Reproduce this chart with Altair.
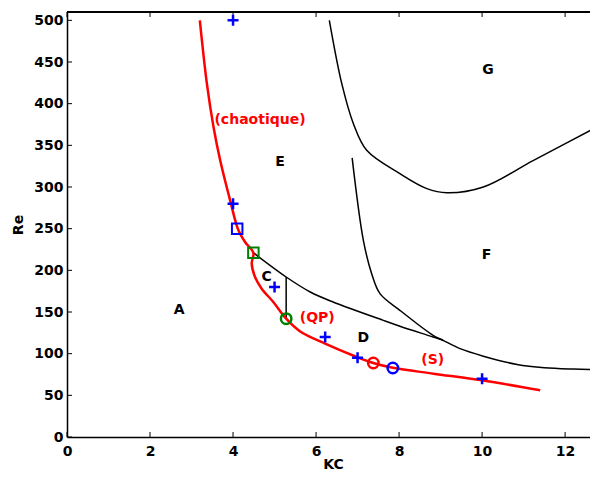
import altair as alt
import pandas as pd

# ---- data ----
red_kc = [3.20, 3.37, 3.53, 3.69, 3.93, 4.13, 4.29, 4.49, 4.45, 4.53, 4.69, 4.97, 5.28, 5.61, 6.22, 6.98, 7.38, 7.85, 8.83, 10.0, 11.4]
red_re = [500, 424, 372, 332, 284, 248, 234, 221, 208, 192, 178, 162, 142, 127, 112, 96, 88.8, 83, 76, 68, 56]

c_kc = [4.49, 5.28, 5.86, 6.41, 7.62, 8.02, 8.82, 9.06]
c_re = [221, 192, 174, 162, 140, 133, 120, 116]

f_kc = [6.87, 7.14, 7.34, 7.54, 8.02, 8.82, 9.06, 9.47, 10.03, 10.84, 11.5, 12.2, 12.8]
f_re = [335, 236, 196, 172, 152, 122, 116, 106, 97, 87, 83, 81.5, 81]

g_kc = [6.32, 6.62, 6.90, 7.22, 8.02, 8.67, 9.15, 10.03, 11.24, 12.8]
g_re = [500, 424, 376, 344, 316, 298, 293, 300, 332, 373]

v_kc = [5.28, 5.28]
v_re = [142, 192]

cross_kc = [4, 4, 5, 6.22, 7, 10]
cross_re = [500, 280, 180, 120, 95, 70]

sq_kc = [4.10, 4.49]
sq_re = [250, 221]
sq_col = ["blue", "green"]

circ_kc = [5.28, 7.38, 7.85]
circ_re = [142, 88.8, 82.8]
circ_col = ["green", "red", "blue"]

lab_text = ["A", "C", "D", "E", "F", "G"]
lab_kc = [2.70, 4.81, 7.14, 5.13, 10.11, 10.14]
lab_re = [153, 192, 119, 330, 219, 440]

red_text = ["(chaotique)", "(QP)", "(S)"]
red_text_kc = [4.65, 6.03, 8.81]
red_text_re = [381, 143, 93]

x_ticks = [0, 2, 4, 6, 8, 10, 12]
y_ticks = [0, 50, 100, 150, 200, 250, 300, 350, 400, 450, 500]

# ---- tables ----
W, H = 523, 425
FONT = "DejaVu Sans"

red_df = pd.DataFrame({"kc": red_kc, "re": red_re, "i": range(len(red_kc))})
black_rows = []
for name, ks, rs in [("c", c_kc, c_re), ("f", f_kc, f_re), ("g", g_kc, g_re), ("v", v_kc, v_re)]:
    for i, (k, r) in enumerate(zip(ks, rs)):
        black_rows.append({"curve": name, "kc": k, "re": r, "i": i})
black_df = pd.DataFrame(black_rows)

cross_df = pd.DataFrame({"kc": cross_kc, "re": cross_re})
sq_df = pd.DataFrame({"kc": sq_kc, "re": sq_re, "col": sq_col})
circ_df = pd.DataFrame({"kc": circ_kc, "re": circ_re, "col": circ_col})
lab_df = pd.DataFrame({"t": lab_text, "kc": lab_kc, "re": lab_re})
red_lab_df = pd.DataFrame({"t": red_text, "kc": red_text_kc, "re": red_text_re})
xt_df = pd.DataFrame({"kc": x_ticks})
yt_df = pd.DataFrame({"re": y_ticks})

xs = alt.Scale(domain=[0, 12.6], nice=False, zero=False)
ys = alt.Scale(domain=[0, 510], nice=False, zero=False)
X = alt.X("kc:Q", scale=xs, title="KC",
          axis=alt.Axis(values=x_ticks, ticks=False, grid=False, labelPadding=7, labelFlush=False,
                        titleBaseline="alphabetic", titleY=31, titleX=266, format="d"))
Y = alt.Y("re:Q", scale=ys, title="Re",
          axis=alt.Axis(values=y_ticks, ticks=False, grid=False, labelPadding=4, labelFlush=False,
                        titlePadding=8, format="d"))
color_scale = alt.Scale(domain=["blue", "green", "red"], range=["#0000ff", "#008000", "#ff0000"])

red_line = alt.Chart(red_df).mark_line(color="#ff0000", strokeWidth=2.5, interpolate="catmull-rom").encode(
    x=X, y=Y, order="i:Q")
black_lines = alt.Chart(black_df).mark_line(color="black", strokeWidth=1.5, interpolate="catmull-rom").encode(
    x=X, y=Y, detail="curve:N", order="i:Q")
crosses = alt.Chart(cross_df).mark_point(
    shape="M-1,0L1,0M0,-1L0,1", size=121, filled=False, strokeWidth=2.5, color="#0000ff", opacity=1
).encode(x=X, y=Y)
squares = alt.Chart(sq_df).mark_point(shape="square", size=110, filled=False, strokeWidth=2, opacity=1).encode(
    x=X, y=Y, color=alt.Color("col:N", scale=color_scale, legend=None))
circles = alt.Chart(circ_df).mark_point(shape="circle", size=110, filled=False, strokeWidth=2.5, opacity=1).encode(
    x=X, y=Y, color=alt.Color("col:N", scale=color_scale, legend=None))
labels = alt.Chart(lab_df).mark_text(font=FONT, fontSize=14, fontWeight="bold", color="black",
                                      align="center", baseline="middle").encode(x=X, y=Y, text="t:N")
red_labels = alt.Chart(red_lab_df).mark_text(font=FONT, fontSize=14, fontWeight="bold", color="#ff0000",
                                              align="center", baseline="middle").encode(x=X, y=Y, text="t:N")

top_border = alt.Chart(xt_df).mark_rule(color="black", strokeWidth=1).encode(
    x=alt.value(0), x2=alt.value(W), y=alt.value(0))
top_ticks = alt.Chart(xt_df).mark_rule(color="black", strokeWidth=1).encode(
    x=alt.X("kc:Q", scale=xs), y=alt.value(0), y2=alt.value(5))
bot_ticks = alt.Chart(xt_df).mark_rule(color="black", strokeWidth=1).encode(
    x=alt.X("kc:Q", scale=xs), y=alt.value(H), y2=alt.value(H - 5))
left_ticks = alt.Chart(yt_df).mark_rule(color="black", strokeWidth=1).encode(
    y=alt.Y("re:Q", scale=ys), x=alt.value(0), x2=alt.value(5))

chart = alt.layer(
    top_border, top_ticks, bot_ticks, left_ticks,
    black_lines, red_line, crosses, squares, circles, labels, red_labels
).properties(
    width=W, height=H,
    autosize=alt.AutoSizeParams(type="none"),
    padding={"left": 59, "top": 4, "right": 0, "bottom": 33},
).configure_view(stroke=None).configure_axis(
    domainColor="black", domainWidth=1.5,
    labelFont=FONT, labelFontSize=14, labelFontWeight="bold", labelColor="black",
    titleFont=FONT, titleFontSize=14, titleFontWeight="bold", titleColor="black",
)

chart.save("out.html", embed_options={"renderer": "svg", "actions": False})
